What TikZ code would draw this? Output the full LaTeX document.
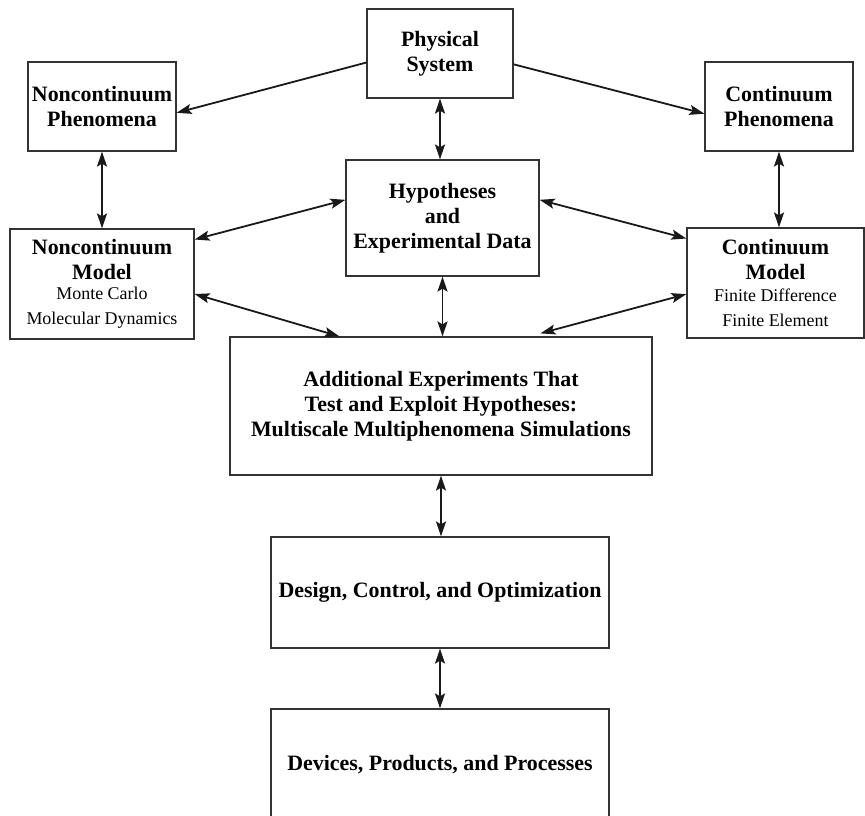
\documentclass[tikz,border=0pt]{standalone}
\usepackage{fontspec}
\setmainfont{Liberation Serif}
\usetikzlibrary{arrows.meta, positioning, calc}
\newcommand{\subln}[1]{{\mdseries\fontsize{18}{22}\selectfont #1}}

\begin{document}
\begin{tikzpicture}[x=1bp, y=-1bp,
  >={Stealth[length=15bp,width=10bp,inset=3bp]},
  every node/.style={font=\bfseries\fontsize{22}{25}\selectfont, align=center},
  blk/.style={draw=black!80, line width=1.2bp, inner sep=0pt},
  link/.style={line width=1.8bp, black!90}]
\useasboundingbox (0,0) rectangle (865,816);
% top: the physical system and what it shows
\node[blk, minimum width=146bp, minimum height=89bp] (phys) at (440,53.5) {Physical\\System};
\node[blk, minimum width=148bp, minimum height=89bp] (ncphen) at (102,106.5) {Noncontinuum\\Phenomena};
\node[blk, minimum width=148bp, minimum height=89bp] (cphen) at (779,106.5) {Continuum\\Phenomena};
% middle row: models and hypotheses
\node[blk, minimum width=193bp, minimum height=116bp] (hyp) at (442.5,218) {Hypotheses\\and\\Experimental Data};
\node[blk, minimum width=184bp, minimum height=110bp] (ncmodel) at (102,284)
  {Noncontinuum\\Model\\[-5pt] \subln{Monte Carlo}\\ \subln{Molecular Dynamics}};
\node[blk, minimum width=177bp, minimum height=110bp] (cmodel) at (775.5,283)
  {Continuum\\Model\\[-3pt] \subln{Finite Difference}\\ \subln{Finite Element}};
% lower column
\node[blk, minimum width=422bp, minimum height=138bp] (addexp) at (441,406)
  {Additional Experiments That\\Test and Exploit Hypotheses:\\Multiscale Multiphenomena Simulations};
\node[blk, minimum width=338bp, minimum height=111bp] (design) at (440,592.5) {Design, Control, and Optimization};
\node[blk, minimum width=338bp, minimum height=111bp] (devices) at (440,764.5) {Devices, Products, and Processes};
% one-way links from the physical system
\draw[link,->] ($(phys.north west)!0.6!(phys.south west)$) -- ($(ncphen.north east)!0.57!(ncphen.south east)$);
\draw[link,->] ($(phys.north east)!0.62!(phys.south east)$) -- ($(cphen.north west)!0.58!(cphen.south west)$);
% vertical two-way links
\foreach \a/\b in {phys/hyp, hyp/addexp, addexp/design, design/devices, ncphen/ncmodel, cphen/cmodel}
  \draw[link,<->] (\a.south) -- (\a.south |- \b.north);
% slanted two-way links
\draw[link,<->] ($(hyp.north west)!0.345!(hyp.south west)$) -- ($(ncmodel.north east)!0.1!(ncmodel.south east)$);
\draw[link,<->] ($(hyp.north east)!0.345!(hyp.south east)$) -- ($(cmodel.north west)!0.1!(cmodel.south west)$);
\draw[link,<->] ($(ncmodel.north east)!0.59!(ncmodel.south east)$) -- ($(addexp.north west)!0.26!(addexp.north east)$);
\draw[link,<->] ($(cmodel.north west)!0.6!(cmodel.south west)$) -- ($(addexp.north west)!0.735!(addexp.north east)+(0,-3)$);
\end{tikzpicture}
\end{document}
